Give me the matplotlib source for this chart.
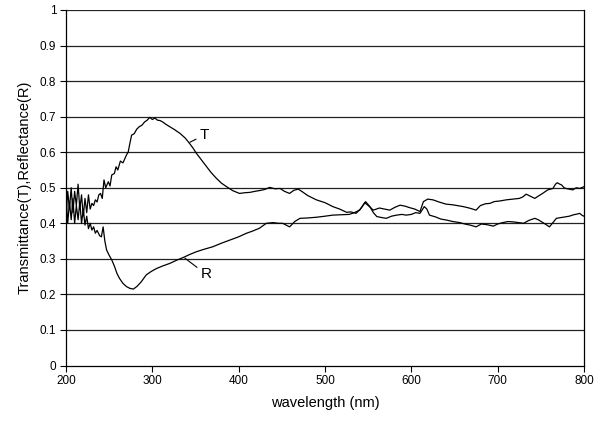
import matplotlib
matplotlib.use("Agg")
import matplotlib.pyplot as plt

plt.rcParams['font.family'] = ['Liberation Sans', 'DejaVu Sans']

# Transmittance (T)
t_wl = [200, 202, 204, 206, 208, 210, 212, 214, 216, 218, 220, 222, 224, 226, 228, 230,
        232, 234, 236, 238, 240, 242, 244, 246, 249, 251, 253, 256, 258, 260, 263, 266,
        270, 272, 274, 276, 279, 282, 285, 288, 291, 294, 297, 300, 303, 306, 309, 312,
        316, 320, 326, 332, 338, 343, 347, 351, 357, 363, 368, 374, 380, 386, 393, 401,
        407, 413, 419, 424, 430, 436, 442, 448, 453, 459, 464, 469, 473, 480, 490, 500,
        509, 517, 525, 530, 536, 541, 546, 550, 556, 563, 569, 575, 581, 587, 593, 598,
        604, 610, 614, 619, 625, 632, 640, 648, 655, 660, 667, 675, 680, 686, 691, 696,
        703, 710, 717, 725, 729, 733, 738, 743, 748, 752, 758, 764, 767, 769, 772, 774,
        777, 779, 783, 787, 791, 795, 800]
t_val = [0.42, 0.49, 0.44, 0.50, 0.43, 0.49, 0.45, 0.51, 0.44, 0.48, 0.42, 0.47, 0.43, 0.48, 0.44, 0.456,
         0.45, 0.466, 0.46, 0.48, 0.484, 0.47, 0.522, 0.50, 0.517, 0.505, 0.536, 0.54, 0.559, 0.55, 0.575, 0.57,
         0.592, 0.60, 0.625, 0.648, 0.652, 0.665, 0.672, 0.676, 0.685, 0.69, 0.698, 0.692, 0.696, 0.69, 0.689, 0.685,
         0.678, 0.672, 0.663, 0.653, 0.64, 0.625, 0.612, 0.597, 0.578, 0.559, 0.543, 0.527, 0.513, 0.503, 0.492, 0.484,
         0.486, 0.487, 0.49, 0.492, 0.495, 0.501, 0.497, 0.498, 0.49, 0.484, 0.493, 0.496, 0.49, 0.478, 0.466, 0.458,
         0.447, 0.44, 0.431, 0.432, 0.428, 0.44, 0.458, 0.45, 0.437, 0.443, 0.44, 0.437, 0.445, 0.451, 0.448, 0.444,
         0.44, 0.433, 0.461, 0.468, 0.466, 0.46, 0.454, 0.452, 0.449, 0.447, 0.443, 0.437, 0.45, 0.455, 0.456, 0.461,
         0.463, 0.466, 0.468, 0.47, 0.474, 0.482, 0.476, 0.47, 0.478, 0.484, 0.494, 0.498, 0.51, 0.514, 0.51, 0.508,
         0.50, 0.498, 0.496, 0.494, 0.50, 0.498, 0.503]

# Reflectance (R)
r_wl = [200, 202, 204, 206, 208, 210, 212, 214, 216, 218, 220, 222, 224, 226, 228, 230,
        232, 234, 236, 239, 241, 243, 245, 247, 250, 253, 256, 259, 262, 266, 270, 274,
        278, 282, 287, 293, 299, 305, 312, 320, 328, 336, 343, 351, 360, 370, 380, 390,
        400, 409, 416, 424, 432, 440, 446, 451, 455, 459, 465, 471, 480, 490, 500, 509,
        518, 528, 534, 540, 544, 547, 552, 556, 560, 566, 571, 577, 583, 589, 594, 600,
        605, 610, 615, 618, 621, 628, 634, 641, 648, 656, 662, 668, 675, 681, 688, 695,
        700, 706, 712, 718, 724, 730, 736, 743, 747, 751, 755, 760, 764, 768, 773, 778,
        783, 788, 792, 795, 798, 800]
r_val = [0.48, 0.40, 0.46, 0.41, 0.47, 0.40, 0.45, 0.41, 0.46, 0.40, 0.44, 0.395, 0.42, 0.385, 0.40, 0.381,
         0.39, 0.372, 0.38, 0.365, 0.362, 0.39, 0.35, 0.325, 0.31, 0.297, 0.28, 0.259, 0.245, 0.231, 0.222, 0.217,
         0.215, 0.222, 0.235, 0.255, 0.265, 0.273, 0.28, 0.287, 0.296, 0.304, 0.312, 0.32, 0.327, 0.334, 0.344, 0.353,
         0.362, 0.372, 0.378, 0.386, 0.40, 0.402, 0.40, 0.40, 0.395, 0.39, 0.405, 0.414, 0.415, 0.417, 0.42, 0.423,
         0.424, 0.425, 0.43, 0.437, 0.45, 0.461, 0.447, 0.43, 0.419, 0.416, 0.414, 0.42, 0.423, 0.425, 0.423, 0.425,
         0.43, 0.428, 0.447, 0.44, 0.423, 0.418, 0.412, 0.409, 0.405, 0.402, 0.398, 0.395, 0.39, 0.398, 0.396, 0.392,
         0.398, 0.402, 0.405, 0.404, 0.402, 0.40, 0.408, 0.414, 0.41, 0.404, 0.398, 0.39, 0.402, 0.414, 0.416, 0.418,
         0.42, 0.424, 0.426, 0.428, 0.422, 0.42]

x_ticks = [200, 300, 400, 500, 600, 700, 800]
y_ticks = [0, 0.1, 0.2, 0.3, 0.4, 0.5, 0.6, 0.7, 0.8, 0.9, 1]
y_tick_labels = ["0", "0.1", "0.2", "0.3", "0.4", "0.5", "0.6", "0.7", "0.8", "0.9", "1"]

fig = plt.figure(figsize=(6, 4.24), dpi=100)
ax = fig.add_axes([66/600, 1 - 365.5/424, (584-66)/600, (365.5-10)/424])

for yv in y_ticks[1:]:
    ax.axhline(yv, color='#222222', lw=0.9, zorder=1)

ax.plot(t_wl, t_val, color='black', lw=0.9, zorder=3)
ax.plot(r_wl, r_val, color='black', lw=0.9, zorder=3)

ax.set_xlim(200, 800)
ax.set_ylim(0, 1)
ax.set_xticks(x_ticks)
ax.set_xticklabels([str(v) for v in x_ticks])
ax.set_yticks(y_ticks)
ax.set_yticklabels(y_tick_labels)
ax.tick_params(direction='out', length=4, width=0.8, labelsize=8.5, pad=3, colors='black')

ax.spines['top'].set_visible(False)
for s in ['left', 'bottom', 'right']:
    ax.spines[s].set_color('black')
    ax.spines[s].set_linewidth(0.9)

ax.set_xlabel('wavelength (nm)', fontsize=10.5, labelpad=6)
ax.set_ylabel('Transmittance(T),Reflectance(R)', fontsize=10.5, labelpad=6)

# annotations
ax.annotate('T', xy=(343.5, 0.628), xytext=(360, 0.648), fontsize=11,
            ha='center', va='center',
            arrowprops=dict(arrowstyle='-', color='black', lw=0.8, shrinkA=0.5, shrinkB=0))
ax.annotate('R', xy=(337.7, 0.302), xytext=(362, 0.257), fontsize=11,
            ha='center', va='center',
            arrowprops=dict(arrowstyle='-', color='black', lw=0.8, shrinkA=0.5, shrinkB=0))

fig.savefig('out.png', dpi=100)
